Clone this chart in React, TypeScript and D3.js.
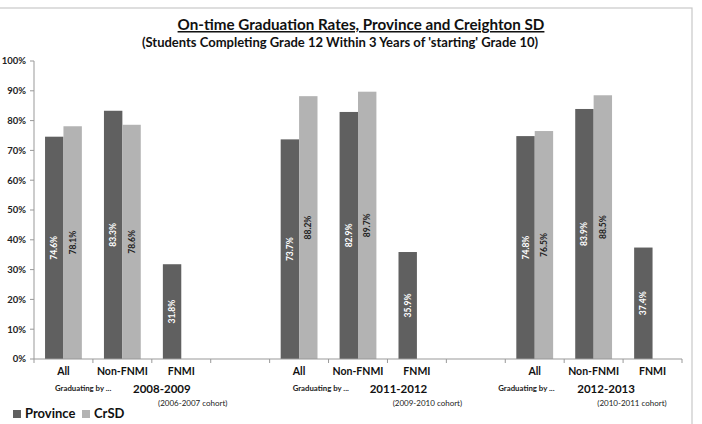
import * as d3 from "d3";

const W = 702;
const H = 424;
const MARGIN = { top: 61, right: 20, bottom: 65, left: 34 };

// data
const cohortYears = ["2008-2009", "2011-2012", "2012-2013"];
const cohortNotes = ["(2006-2007 cohort)", "(2009-2010 cohort)", "(2010-2011 cohort)"];
const subgroups = ["All", "Non-FNMI", "FNMI"];
const seriesNames = ["Province", "CrSD"];
const provinceValues = [74.6, 83.3, 31.8, 73.7, 82.9, 35.9, 74.8, 83.9, 37.4];
const crsdValues = [78.1, 78.6, null, 88.2, 89.7, null, 76.5, 88.5, null];
const yTicks = [0, 10, 20, 30, 40, 50, 60, 70, 80, 90, 100];

const COLORS = ["#606060", "#b3b3b3"];
const LABEL_COLORS = ["#ffffff", "#222222"];
const FONT = "Lato, 'Open Sans', sans-serif";

// hand-placed annotation offsets (from each group's first category edge)
const GRAD_DX = [21, 23, -7];
const YEAR_DX = [99, 100, 72];
const NOTE_DX = [124, 123, 92];

// 11 slots: 3 groups of 3 with one blank slot between groups
const slots = d3.range(11);
const slotLabel = (i: number) => (i % 4 === 3 ? "" : subgroups[i % 4]);
const slotValueIndex = (i: number) => (i % 4 === 3 ? -1 : Math.floor(i / 4) * 3 + (i % 4));

export default function App() {
  const x0 = d3.scaleBand<number>().domain(slots).range([MARGIN.left, 682]).paddingInner(0).paddingOuter(0);
  const x1 = d3.scaleBand<string>().domain(seriesNames).range([0, x0.bandwidth()]).paddingInner(0).paddingOuter(0.6);
  const y = d3.scaleLinear().domain([0, 100]).range([H - MARGIN.bottom, MARGIN.top]);
  const y0 = y(0);

  const bars: { x: number; v: number; s: number }[] = [];
  slots.forEach((i) => {
    const k = slotValueIndex(i);
    if (k < 0) return;
    [provinceValues[k], crsdValues[k]].forEach((v, s) => {
      if (v == null) return;
      bars.push({ x: (x0(i) as number) + (x1(seriesNames[s]) as number), v, s });
    });
  });

  const tickXs = slots.map((i) => x0(i) as number).concat([(x0(10) as number) + x0.bandwidth()]);

  return (
    <div style={{ position: "absolute", left: 0, top: 0 }}>
      <svg width={W} height={H} style={{ display: "block", fontFamily: FONT }}>
        <rect x={-1} y={8} width={693} height={H} fill="#fff" stroke="#c8c8c8" strokeWidth={1.2} />

        <text x={361} y={30} textAnchor="middle" fontSize={15.2} fontWeight="bold" fill="#111" textDecoration="underline">
          On-time Graduation Rates, Province and Creighton SD
        </text>
        <text x={340} y={47} textAnchor="middle" fontSize={13} fontWeight="bold" fill="#111">
          (Students Completing Grade 12 Within 3 Years of 'starting' Grade 10)
        </text>

        {/* y axis */}
        <line x1={MARGIN.left} x2={MARGIN.left} y1={y(100)} y2={y0} stroke="#999" />
        {yTicks.map((t) => (
          <g key={t}>
            <line x1={MARGIN.left - 4} x2={MARGIN.left} y1={y(t)} y2={y(t)} stroke="#999" />
            <text x={26} y={y(t)} dy="0.35em" textAnchor="end" fontSize={9.5} fontWeight="bold" fill="#222">
              {t}%
            </text>
          </g>
        ))}

        {/* bars */}
        {bars.map((b, i) => (
          <g key={i}>
            <rect x={b.x} y={y(b.v)} width={x1.bandwidth()} height={y0 - y(b.v)} fill={COLORS[b.s]} />
            <text
              transform={`translate(${b.x + x1.bandwidth() / 2},${(y(b.v) + y0) / 2}) rotate(-90)`}
              textAnchor="middle"
              dy="0.35em"
              fontSize={8.5}
              fontWeight="bold"
              fill={LABEL_COLORS[b.s]}
            >
              {b.v.toFixed(1)}%
            </text>
          </g>
        ))}

        {/* x axis */}
        <line x1={MARGIN.left} x2={tickXs[tickXs.length - 1]} y1={y0} y2={y0} stroke="#999" />
        {tickXs.map((tx, i) => (
          <line key={i} x1={tx} x2={tx} y1={y0} y2={y0 + 4} stroke="#999" />
        ))}
        {slots.map((i) => (
          <text key={i} x={(x0(i) as number) + x0.bandwidth() / 2} y={375} textAnchor="middle" fontSize={10.5} fontWeight="bold" fill="#111">
            {slotLabel(i)}
          </text>
        ))}

        {cohortYears.map((yr, g) => {
          const gx = x0(g * 4) as number;
          return (
            <g key={yr}>
              <text x={gx + GRAD_DX[g]} y={391} fontSize={7.8} fontWeight="bold" fill="#222">
                Graduating by ...
              </text>
              <text x={gx + YEAR_DX[g]} y={393} fontSize={11.5} fontWeight="bold" fill="#111">
                {yr}
              </text>
              <text x={gx + NOTE_DX[g]} y={406} fontSize={8} fill="#222">
                {cohortNotes[g]}
              </text>
            </g>
          );
        })}

        {/* legend */}
        {seriesNames.map((s, i) => {
          const lx = [13, 82][i];
          return (
            <g key={s}>
              <rect x={lx} y={410} width={8} height={8} fill={COLORS[i]} />
              <text x={lx + 12} y={418} fontSize={13} fontWeight="bold" fill="#111">
                {s}
              </text>
            </g>
          );
        })}
      </svg>
    </div>
  );
}
